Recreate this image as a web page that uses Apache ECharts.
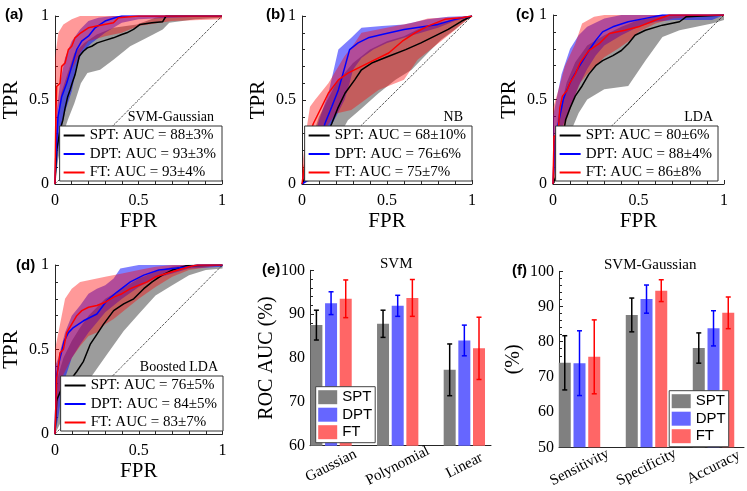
<!DOCTYPE html>
<html><head><meta charset="utf-8">
<script src="https://cdn.jsdelivr.net/npm/echarts@6/dist/echarts.min.js"></script>
<style>html,body{margin:0;padding:0;background:#fff}#c{width:747px;height:491px}</style>
</head><body><div id="c"></div>
<script>
// ---------------- DATA ----------------
// (a) SVM-Gaussian ROC
const aSptMean=[[0,0],[0.01,0.2],[0.03,0.32],[0.047,0.38],[0.06,0.45],[0.076,0.52],[0.09,0.56],[0.106,0.61],[0.12,0.65],[0.145,0.76],[0.17,0.79],[0.194,0.81],[0.22,0.82],[0.253,0.84],[0.3,0.855],[0.35,0.87],[0.4,0.89],[0.43,0.9],[0.47,0.92],[0.51,0.95],[0.58,0.96],[0.645,0.966],[0.665,1],[1,1]];
const aSptUp=[[0,0.24],[0.02,0.42],[0.037,0.54],[0.076,0.66],[0.116,0.78],[0.175,0.84],[0.25,0.89],[0.35,0.93],[0.49,0.95],[0.6,0.99],[0.665,1],[1,1]];
const aSptLo=[[0,0],[0.018,0.14],[0.05,0.3],[0.076,0.38],[0.116,0.48],[0.155,0.6],[0.194,0.66],[0.27,0.68],[0.35,0.74],[0.45,0.82],[0.55,0.87],[0.645,0.92],[0.684,0.96],[0.84,0.98],[1,0.99]];
const aDptMean=[[0,0],[0.004,0.15],[0.018,0.4],[0.04,0.52],[0.07,0.6],[0.1,0.7],[0.13,0.8],[0.16,0.85],[0.2,0.88],[0.24,0.93],[0.3,0.97],[0.36,0.99],[0.4,1],[1,1]];
const aDptUp=[[0,0.35],[0.03,0.6],[0.06,0.75],[0.1,0.85],[0.15,0.92],[0.2,0.97],[0.26,0.99],[0.35,1],[1,1]];
const aDptLo=[[0,0],[0.03,0.3],[0.06,0.43],[0.1,0.55],[0.13,0.7],[0.16,0.78],[0.22,0.84],[0.3,0.9],[0.4,0.96],[0.5,0.98],[0.7,0.99],[1,1]];
const aFtMean=[[0,0],[0.005,0.4],[0.01,0.58],[0.03,0.6],[0.04,0.7],[0.06,0.72],[0.08,0.8],[0.1,0.82],[0.12,0.87],[0.155,0.9],[0.2,0.93],[0.25,0.94],[0.35,0.96],[0.38,0.99],[0.5,1],[1,1]];
const aFtUp=[[0,0.75],[0.02,0.9],[0.05,0.95],[0.1,0.98],[0.15,1],[1,1]];
const aFtLo=[[0,0.2],[0.02,0.45],[0.05,0.55],[0.1,0.68],[0.15,0.78],[0.2,0.85],[0.3,0.88],[0.4,0.9],[0.5,0.94],[0.7,0.97],[1,0.98]];
const aAucMean=[88,93,93], aAucStd=[3,3,4];

// (b) NB ROC
const bSptMean=[[0,0],[0.05,0.1],[0.1,0.2],[0.15,0.3],[0.175,0.36],[0.21,0.45],[0.253,0.54],[0.31,0.62],[0.35,0.68],[0.41,0.72],[0.51,0.76],[0.61,0.8],[0.7,0.84],[0.78,0.88],[0.86,0.92],[0.94,0.97],[1,1]];
const bSptUp=[[0,0.05],[0.05,0.25],[0.1,0.4],[0.2,0.6],[0.3,0.72],[0.4,0.8],[0.5,0.85],[0.6,0.88],[0.7,0.93],[0.8,0.96],[0.9,0.98],[1,1]];
const bSptLo=[[0,0],[0.05,0.02],[0.15,0.15],[0.2,0.25],[0.27,0.38],[0.35,0.45],[0.45,0.54],[0.55,0.62],[0.645,0.68],[0.74,0.78],[0.82,0.86],[0.9,0.92],[0.96,0.97],[1,1]];
const bDptMean=[[0,0],[0.03,0.02],[0.08,0.15],[0.12,0.3],[0.135,0.36],[0.175,0.46],[0.214,0.56],[0.253,0.7],[0.28,0.8],[0.33,0.84],[0.39,0.87],[0.47,0.89],[0.6,0.92],[0.8,0.95],[0.9,0.98],[1,1]];
const bDptUp=[[0,0.05],[0.05,0.2],[0.1,0.38],[0.155,0.54],[0.214,0.8],[0.29,0.87],[0.35,0.93],[0.47,0.94],[0.6,0.95],[0.74,0.98],[0.86,0.995],[1,1]];
const bDptLo=[[0,0],[0.06,0.05],[0.12,0.25],[0.2,0.4],[0.25,0.5],[0.28,0.6],[0.3,0.68],[0.35,0.75],[0.42,0.8],[0.5,0.84],[0.6,0.87],[0.7,0.9],[0.8,0.93],[0.9,0.97],[1,1]];
const bFtMean=[[0,0],[0.02,0.15],[0.045,0.3],[0.067,0.36],[0.116,0.46],[0.155,0.54],[0.214,0.62],[0.27,0.66],[0.35,0.7],[0.43,0.74],[0.51,0.78],[0.59,0.85],[0.665,0.9],[0.74,0.94],[0.84,0.98],[0.94,0.99],[1,1]];
const bFtUp=[[0,0.1],[0.03,0.35],[0.047,0.46],[0.076,0.5],[0.155,0.6],[0.25,0.76],[0.31,0.84],[0.35,0.9],[0.55,0.94],[0.65,0.96],[0.74,0.985],[1,1]];
const bFtLo=[[0,0],[0.05,0.1],[0.1,0.25],[0.15,0.35],[0.2,0.42],[0.29,0.44],[0.45,0.56],[0.6,0.62],[0.68,0.74],[0.78,0.82],[0.88,0.9],[1,1]];
const bAucMean=[68,76,75], bAucStd=[10,6,7];

// (c) LDA ROC
const cSptMean=[[0,0],[0.02,0.05],[0.045,0.2],[0.06,0.3],[0.074,0.38],[0.1,0.45],[0.13,0.52],[0.17,0.58],[0.21,0.65],[0.25,0.7],[0.29,0.73],[0.35,0.76],[0.4,0.79],[0.44,0.83],[0.48,0.88],[0.54,0.91],[0.64,0.94],[0.74,0.96],[0.78,0.99],[1,1]];
const cSptUp=[[0,0.1],[0.03,0.4],[0.08,0.6],[0.13,0.72],[0.2,0.82],[0.3,0.88],[0.4,0.93],[0.5,0.97],[0.6,0.99],[0.68,1],[1,1]];
const cSptLo=[[0,0],[0.05,0.1],[0.1,0.3],[0.15,0.42],[0.2,0.5],[0.3,0.56],[0.44,0.58],[0.54,0.73],[0.64,0.87],[0.74,0.91],[0.93,0.95],[1,0.97]];
const cDptMean=[[0,0],[0.01,0.25],[0.04,0.4],[0.06,0.5],[0.074,0.54],[0.11,0.62],[0.15,0.69],[0.21,0.79],[0.25,0.85],[0.29,0.9],[0.35,0.93],[0.44,0.96],[0.54,0.98],[0.64,1],[1,1]];
const cDptUp=[[0,0.4],[0.05,0.65],[0.1,0.8],[0.15,0.88],[0.2,0.93],[0.3,0.98],[0.4,1],[1,1]];
const cDptLo=[[0,0],[0.02,0.15],[0.06,0.35],[0.1,0.45],[0.15,0.58],[0.2,0.68],[0.25,0.76],[0.3,0.82],[0.4,0.88],[0.5,0.93],[0.6,0.96],[0.7,0.97],[0.93,0.97],[1,1]];
const cFtMean=[[0,0],[0.006,0.28],[0.03,0.3],[0.04,0.45],[0.055,0.52],[0.08,0.55],[0.1,0.6],[0.13,0.65],[0.16,0.72],[0.21,0.79],[0.27,0.83],[0.33,0.89],[0.42,0.91],[0.5,0.93],[0.6,0.97],[0.68,1],[1,1]];
const cFtUp=[[0,0.45],[0.03,0.55],[0.07,0.7],[0.13,0.83],[0.17,0.95],[0.24,0.99],[0.3,1],[1,1]];
const cFtLo=[[0,0],[0.02,0.05],[0.05,0.25],[0.08,0.38],[0.12,0.5],[0.16,0.6],[0.2,0.65],[0.25,0.7],[0.3,0.75],[0.38,0.8],[0.45,0.85],[0.5,0.9],[0.6,0.95],[0.7,0.98],[1,1]];
const cAucMean=[80,88,86], cAucStd=[6,4,8];

// (d) Boosted LDA ROC
const dSptMean=[[0,0],[0.01,0.2],[0.04,0.27],[0.075,0.29],[0.1,0.33],[0.13,0.37],[0.17,0.43],[0.21,0.53],[0.25,0.59],[0.29,0.65],[0.35,0.73],[0.41,0.77],[0.47,0.8],[0.53,0.86],[0.58,0.9],[0.64,0.94],[0.7,0.97],[0.78,0.995],[1,1]];
const dSptUp=[[0,0.2],[0.02,0.35],[0.05,0.45],[0.1,0.55],[0.15,0.63],[0.2,0.7],[0.3,0.8],[0.4,0.86],[0.5,0.92],[0.6,0.96],[0.7,0.99],[0.8,1],[1,1]];
const dSptLo=[[0,0],[0.05,0.1],[0.1,0.15],[0.15,0.22],[0.21,0.33],[0.31,0.47],[0.41,0.61],[0.5,0.71],[0.6,0.82],[0.7,0.88],[0.8,0.94],[0.9,0.97],[1,0.98]];
const dDptMean=[[0,0],[0.01,0.35],[0.03,0.45],[0.055,0.55],[0.08,0.6],[0.11,0.63],[0.17,0.67],[0.25,0.71],[0.31,0.79],[0.37,0.84],[0.45,0.9],[0.53,0.94],[0.62,0.97],[0.8,0.99],[0.85,1],[1,1]];
const dDptUp=[[0,0.4],[0.02,0.45],[0.06,0.6],[0.1,0.7],[0.15,0.76],[0.2,0.83],[0.25,0.86],[0.3,0.88],[0.35,0.92],[0.39,0.98],[0.5,1],[1,1]];
const dDptLo=[[0,0],[0.02,0.1],[0.05,0.3],[0.1,0.45],[0.15,0.53],[0.2,0.6],[0.25,0.66],[0.3,0.72],[0.4,0.8],[0.5,0.87],[0.6,0.92],[0.7,0.95],[0.8,0.98],[1,0.99]];
const dFtMean=[[0,0],[0.01,0.33],[0.03,0.48],[0.05,0.5],[0.07,0.6],[0.1,0.65],[0.13,0.7],[0.16,0.73],[0.2,0.75],[0.25,0.76],[0.3,0.78],[0.35,0.81],[0.4,0.83],[0.45,0.86],[0.5,0.88],[0.55,0.9],[0.6,0.93],[0.7,0.96],[0.8,0.99],[0.85,1],[1,1]];
const dFtUp=[[0,0.5],[0.03,0.65],[0.06,0.8],[0.1,0.86],[0.15,0.9],[0.2,0.91],[0.3,0.93],[0.4,0.95],[0.5,0.97],[0.6,0.99],[0.7,1],[1,1]];
const dFtLo=[[0,0],[0.02,0.2],[0.05,0.35],[0.1,0.45],[0.15,0.52],[0.2,0.58],[0.25,0.6],[0.3,0.65],[0.35,0.68],[0.4,0.72],[0.5,0.8],[0.6,0.87],[0.7,0.93],[0.8,0.97],[1,1]];
const dAucMean=[76,84,83], dAucStd=[5,5,7];

// (e) SVM kernels, ROC AUC (%)
const eCategories=['Gaussian','Polynomial','Linear'];
const eSpt=[87.5,87.8,77.3], eSptErr=[3.4,3.1,5.9];
const eDpt=[92.5,91.9,84.0], eDptErr=[2.6,2.4,3.5];
const eFt=[93.5,93.7,82.2], eFtErr=[4.3,4.2,7.1];
// (f) SVM-Gaussian metrics (%)
const fCategories=['Sensitivity','Specificity','Accuracy'];
const fSpt=[74.0,87.6,78.2], fSptErr=[7.7,4.8,4.3];
const fDpt=[73.9,92.1,83.8], fDptErr=[9.2,4.0,5.0];
const fFt=[75.7,94.5,88.2], fFtErr=[10.5,3.1,4.5];
const groupNames=['SPT','DPT','FT'];
const diagonal=[[0,0],[1,1]];

// ---------------- STYLE / BUILD ----------------
const SERIF='Liberation Serif', SANS='Liberation Sans';
const AX='#262626';
const lineCol=['#000000','#0000ff','#ff0000'];
const bandCol=['rgba(95,95,95,0.62)','rgba(0,0,255,0.5)','rgba(255,0,0,0.4)'];
const barCol=['#808080','#6666ff','#ff6666'];
const errCol=['#000000','#0000ff','#ff0000'];

const grids=[
 {left:52,top:16,width:170,height:168},
 {left:302,top:16,width:170,height:168},
 {left:553,top:15,width:171,height:169},
 {left:52.5,top:265,width:170,height:169},
 {left:310,top:270.3,width:181,height:175.4},
 {left:559,top:271.3,width:185,height:176}
];
const xAxes=[], yAxes=[], series=[], legends=[], titles=[];

function rocAxes(i){
  xAxes.push({gridIndex:i,type:'value',min:0,max:1,interval:0.5,name:'FPR',nameLocation:'middle',nameGap:27,
    nameTextStyle:{fontFamily:SERIF,fontSize:21,color:'#000'},
    axisLine:{lineStyle:{color:AX,width:1}},axisTick:{inside:true,length:4,lineStyle:{color:AX}},
    minorTick:{show:true,splitNumber:5,length:3,lineStyle:{color:AX}},
    axisLabel:{fontFamily:SERIF,fontSize:16,color:'#000',margin:9},splitLine:{show:false}});
  yAxes.push({gridIndex:i,type:'value',min:0,max:1,interval:0.5,name:'TPR',nameLocation:'middle',nameGap:33,
    nameTextStyle:{fontFamily:SERIF,fontSize:21,color:'#000'},
    axisLine:{show:true,lineStyle:{color:AX,width:1}},axisTick:{show:true,inside:true,length:4,lineStyle:{color:AX}},
    minorTick:{show:true,splitNumber:5,length:3,lineStyle:{color:AX}},
    axisLabel:{fontFamily:SERIF,fontSize:16,color:'#000',margin:6},splitLine:{show:false}});
}
function band(i,up,lo,color){
  return {type:'custom',xAxisIndex:i,yAxisIndex:i,silent:true,data:[[0,0]],
    renderItem:function(params,api){
      const pts=up.map(p=>api.coord(p)).concat(lo.slice().reverse().map(p=>api.coord(p)));
      return {type:'polygon',shape:{points:pts},style:{fill:color}};
    }};
}
function rocPanel(i,sets,aucM,aucS,leg,title){
  rocAxes(i);
  series.push({type:'line',xAxisIndex:i,yAxisIndex:i,data:diagonal,showSymbol:false,silent:true,
    lineStyle:{color:'#000',width:1,type:[1,1.2]}});
  const names=[];
  sets.forEach((s,k)=>{
    const nm=groupNames[k]+': AUC = '+aucM[k]+'\u00b1'+aucS[k]+'%';
    names.push(nm);
    series.push(band(i,s[1],s[2],bandCol[k]));
    series.push({type:'line',name:nm,xAxisIndex:i,yAxisIndex:i,data:s[0],showSymbol:false,
      color:lineCol[k],itemStyle:{color:lineCol[k]},lineStyle:{color:lineCol[k],width:1.5}});
  });
  legends.push(Object.assign({data:names,orient:'vertical',icon:'rect',itemWidth:21,itemHeight:2,itemGap:3.5,
    padding:[2,6,1,4],backgroundColor:'#fff',borderColor:'#333',borderWidth:1,selectedMode:false,
    textStyle:{fontFamily:SERIF,fontSize:15,color:'#000',lineHeight:14}},leg));
  titles.push(Object.assign({text:title.text,padding:0,textStyle:{fontFamily:SERIF,fontSize:14,fontWeight:'normal',color:'#000'}},title.pos));
}
rocPanel(0,[[aSptMean,aSptUp,aSptLo],[aDptMean,aDptUp,aDptLo],[aFtMean,aFtUp,aFtLo]],aAucMean,aAucStd,
  {right:525,top:126},{text:'SVM-Gaussian',pos:{right:533,top:110}});
rocPanel(1,[[bSptMean,bSptUp,bSptLo],[bDptMean,bDptUp,bDptLo],[bFtMean,bFtUp,bFtLo]],bAucMean,bAucStd,
  {right:275,top:126},{text:'NB',pos:{right:284,top:110}});
rocPanel(2,[[cSptMean,cSptUp,cSptLo],[cDptMean,cDptUp,cDptLo],[cFtMean,cFtUp,cFtLo]],cAucMean,cAucStd,
  {right:29,top:126},{text:'LDA',pos:{right:34,top:110}});
rocPanel(3,[[dSptMean,dSptUp,dSptLo],[dDptMean,dDptUp,dDptLo],[dFtMean,dFtUp,dFtLo]],dAucMean,dAucStd,
  {right:524,top:376},{text:'Boosted LDA',pos:{right:529,top:360}});

const OFFSET=0.22;
function barPanel(i,cats,vals,errs,ymin,xmin,xmax,yname,ygap,leg,title){
  xAxes.push({gridIndex:i,type:'value',min:xmin,max:xmax,
    axisLine:{lineStyle:{color:AX,width:1}},axisTick:{show:false},splitLine:{show:false},
    axisLabel:{customValues:[1,2,3],formatter:v=>cats[Math.round(v)-1],rotate:27,align:'center',verticalAlign:'middle',
      margin:20,fontFamily:SERIF,fontSize:15,color:'#000'}});
  yAxes.push({gridIndex:i,type:'value',min:ymin,max:100,interval:10,name:yname,nameLocation:'middle',nameGap:ygap,
    nameTextStyle:{fontFamily:SERIF,fontSize:20,color:'#000'},
    axisLine:{show:true,lineStyle:{color:AX,width:1}},axisTick:{show:true,inside:true,length:4,lineStyle:{color:AX}},
    minorTick:{show:true,splitNumber:5,length:3,lineStyle:{color:AX}},
    axisLabel:{fontFamily:SERIF,fontSize:16,color:'#000',margin:5},splitLine:{show:false}});
  vals.forEach((v,k)=>{
    const off=(k-1)*OFFSET;
    series.push({type:'bar',name:groupNames[k],xAxisIndex:i,yAxisIndex:i,barWidth:12,barGap:'-100%',
      color:barCol[k],itemStyle:{color:barCol[k]},
      data:v.map((y,j)=>[j+1+off,y])});
    series.push({type:'custom',name:groupNames[k]+' error',xAxisIndex:i,yAxisIndex:i,silent:true,z:3,
      data:v.map((y,j)=>[j+1+off,y-errs[k][j],y+errs[k][j]]),encode:{x:0,y:[1,2]},
      renderItem:function(params,api){
        const x=api.value(0);
        const lo=api.coord([x,api.value(1)]), hi=api.coord([x,api.value(2)]);
        const st={stroke:errCol[k],lineWidth:1.5};
        return {type:'group',children:[
          {type:'line',shape:{x1:lo[0],y1:lo[1],x2:hi[0],y2:hi[1]},style:st},
          {type:'line',shape:{x1:hi[0]-2.5,y1:hi[1],x2:hi[0]+2.5,y2:hi[1]},style:st},
          {type:'line',shape:{x1:lo[0]-2.5,y1:lo[1],x2:lo[0]+2.5,y2:lo[1]},style:st}]};
      }});
  });
  legends.push(Object.assign({data:groupNames,orient:'vertical',icon:'rect',itemWidth:19,itemHeight:14,itemGap:2.5,
    padding:[3,3,3,2.5],backgroundColor:'#fff',borderColor:'#444',borderWidth:1,selectedMode:false,
    textStyle:{fontFamily:SANS,fontSize:15,color:'#000',lineHeight:14}},leg));
  titles.push(Object.assign({text:title.text,padding:0,textStyle:{fontFamily:SERIF,fontSize:15,fontWeight:'normal',color:'#000'}},title.pos));
}
barPanel(4,eCategories,[eSpt,eDpt,eFt],[eSptErr,eDptErr,eFtErr],60,0.684,3.4,'ROC AUC (%)',31.5,
  {left:315.7,top:386.7},{text:'SVM',pos:{left:380,top:257}});
barPanel(5,fCategories,[fSpt,fDpt,fFt],[fSptErr,fDptErr,fFtErr],50,0.694,3.455,'(%)',35.5,
  {right:18.3,top:390.7},{text:'SVM-Gaussian',pos:{left:604,top:258}});

const letters=[['(a)',5,7],['(b)',266,7],['(c)',516,7],['(d)',16,258],['(e)',262,262],['(f)',512,263]];
letters.forEach(l=>titles.push({text:l[0],left:l[1],top:l[2],padding:0,
  textStyle:{fontFamily:SANS,fontSize:15,fontWeight:'bold',color:'#000'}}));

const chart=echarts.init(document.getElementById('c'),null,{renderer:'canvas'});
chart.setOption({animation:false,backgroundColor:'#fff',grid:grids,xAxis:xAxes,yAxis:yAxes,
  series:series,legend:legends,title:titles,tooltip:{show:false}});
</script></body></html>
